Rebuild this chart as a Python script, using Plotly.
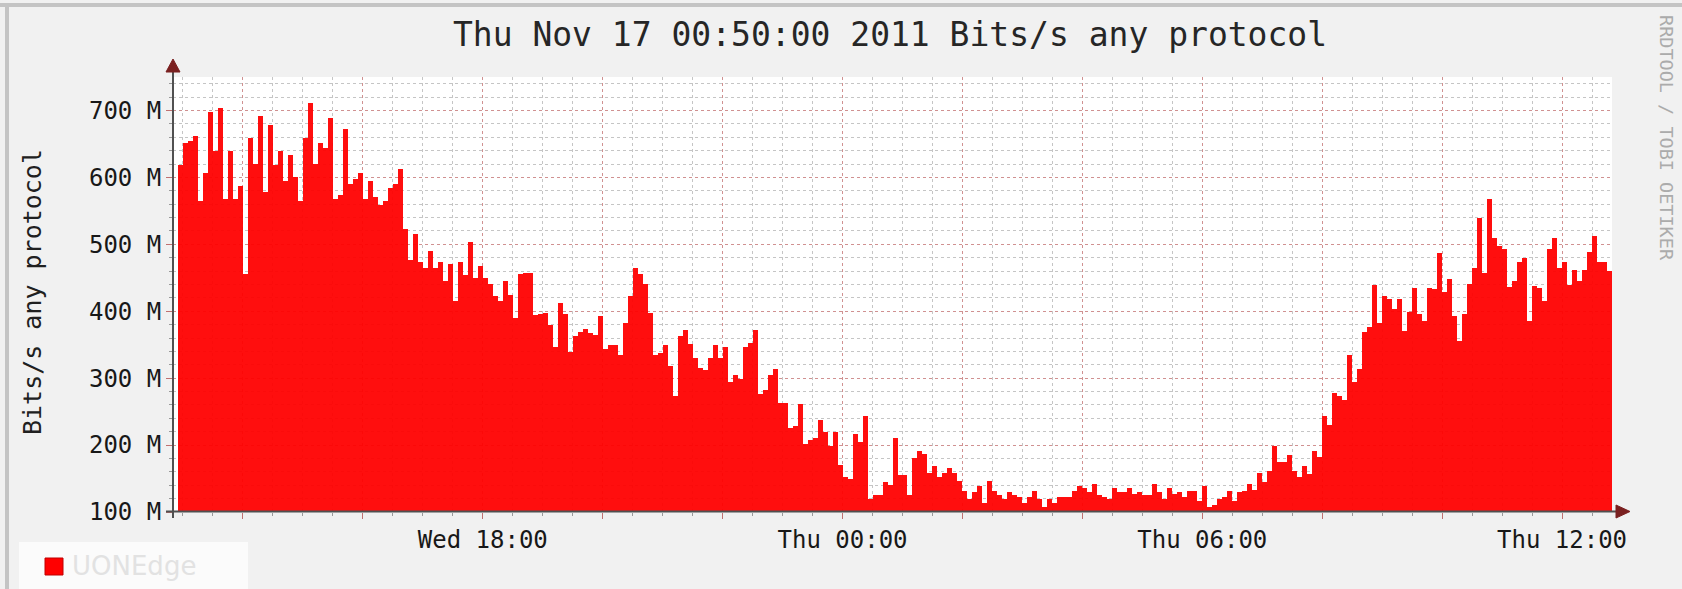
import plotly.graph_objects as go
import pandas as pd

# ---------------- data (Mbit/s, 5-minute samples) ----------------
START = "2011-11-16 12:55:00"      # start of first 5-min bar
STEP_MIN = 5

wed_afternoon = [619, 652, 655, 662, 565, 607, 697, 639, 704, 568,
                 639, 568, 587, 455, 659, 620, 692, 578, 679, 618,
                 639, 594, 633, 600, 565, 659, 711, 620, 652, 644,
                 688, 568, 574, 672, 590, 597, 607, 568, 594, 571,
                 559, 564, 584, 590, 613, 523, 477, 516]
wed_evening = [473, 465, 490, 465, 473, 445, 470, 416, 473, 454,
               503, 449, 467, 449, 441, 423, 416, 445, 425, 390,
               456, 457, 457, 394, 396, 398, 379, 347, 412, 396,
               339, 363, 369, 373, 367, 364, 393, 344, 350, 350,
               335, 383, 423, 464, 455, 441, 398, 335]
wed_night = [338, 350, 318, 273, 363, 372, 351, 330, 315, 312,
             330, 350, 330, 346, 295, 304, 299, 346, 353, 372,
             276, 282, 304, 314, 263, 263, 225, 228, 262, 202,
             207, 210, 237, 220, 199, 219, 170, 152, 150, 217,
             204, 243, 120, 126, 126, 145, 141, 210]
thu_early = [156, 156, 126, 181, 191, 186, 159, 168, 152, 159,
             166, 159, 146, 132, 120, 130, 139, 113, 146, 132,
             126, 120, 130, 126, 123, 113, 123, 132, 120, 107,
             120, 113, 123, 123, 123, 132, 139, 136, 130, 142,
             126, 123, 120, 136, 130, 130, 136, 127]
thu_morning = [130, 125, 125, 142, 130, 120, 136, 127, 130, 123,
               132, 132, 117, 139, 107, 111, 120, 123, 132, 117,
               130, 132, 142, 133, 159, 145, 162, 199, 175, 175,
               185, 162, 152, 168, 157, 191, 182, 243, 230, 278,
               273, 267, 334, 295, 314, 369, 376, 439]
thu_midday = [383, 423, 419, 403, 419, 370, 399, 435, 396, 386,
              435, 433, 487, 429, 448, 393, 355, 396, 441, 465,
              539, 457, 568, 509, 497, 493, 436, 445, 473, 480,
              386, 438, 435, 416, 493, 509, 464, 473, 439, 461,
              445, 461, 489, 512, 473, 473, 460]

values = wed_afternoon + wed_evening + wed_night + thu_early + thu_morning + thu_midday

y_tick_vals = [100, 200, 300, 400, 500, 600, 700]
y_tick_text = ["100 M", "200 M", "300 M", "400 M", "500 M", "600 M", "700 M"]
x_major_ticks = ["2011-11-16 14:00", "2011-11-16 16:00", "2011-11-16 18:00",
                 "2011-11-16 20:00", "2011-11-16 22:00", "2011-11-17 00:00",
                 "2011-11-17 02:00", "2011-11-17 04:00", "2011-11-17 06:00",
                 "2011-11-17 08:00", "2011-11-17 10:00", "2011-11-17 12:00"]
x_major_text = ["", "", "Wed 18:00", "", "", "Thu 00:00",
                "", "", "Thu 06:00", "", "", "Thu 12:00"]
X_RANGE = ["2011-11-16 12:50:00", "2011-11-17 12:50:00"]
Y_RANGE = [100, 750]

TITLE = "Thu Nov 17 00:50:00 2011 Bits/s any protocol"
Y_TITLE = "Bits/s any protocol"
WATERMARK = "RRDTOOL / TOBI OETIKER"
LEGEND_LABEL = "UONEdge"

# ---------------- layout geometry ----------------
W, H = 1682, 589
L, R, T, B = 173, 70, 77, 77
PW = W - L - R
PH = H - T - B


def px(x):
    return (x - L) / PW


def py(y):
    return (H - B - y) / PH


starts = pd.date_range(START, periods=len(values), freq=f"{STEP_MIN}min")
centers = starts + pd.Timedelta(minutes=STEP_MIN / 2)

MONO = "DejaVu Sans Mono"
fig = go.Figure()
fig.add_trace(go.Bar(
    x=centers, y=values, width=STEP_MIN * 60 * 1000,
    marker=dict(color="#ff0000", line=dict(width=0)),
    opacity=0.94, name=LEGEND_LABEL, showlegend=False,
    hovertemplate="%{x}<br>%{y} M<extra></extra>",
))

minor_grid = "rgba(150,150,150,0.55)"
major_grid = "rgba(215,110,110,0.6)"

fig.update_layout(
    width=W, height=H,
    margin=dict(l=L, r=R, t=T, b=B),
    paper_bgcolor="#f1f1f1", plot_bgcolor="#ffffff",
    bargap=0,
    font=dict(family=MONO, color="#202020"),
    title=dict(text=TITLE, x=890 / W, xref="container",
               xanchor="center", y=1 - 34 / H, yanchor="middle",
               font=dict(family=MONO, size=33, color="#262626")),
    xaxis=dict(
        type="date", range=X_RANGE,
        tickmode="array", tickvals=x_major_ticks, ticktext=x_major_text,
        showgrid=True, gridcolor=major_grid, griddash="dot", gridwidth=1,
        ticks="outside", ticklen=6, tickcolor="#c07070",
        tickfont=dict(family=MONO, size=24, color="#181818"),
        minor=dict(tickmode="linear", tick0="2011-11-16 13:00", dtick=30 * 60 * 1000,
                   showgrid=True, gridcolor=minor_grid, griddash="dot", gridwidth=1,
                   ticks="outside", ticklen=3, tickcolor="#999999"),
        zeroline=False, showline=False, fixedrange=True,
    ),
    yaxis=dict(
        range=Y_RANGE,
        tickmode="array", tickvals=y_tick_vals, ticktext=y_tick_text,
        showgrid=True, gridcolor=major_grid, griddash="dot", gridwidth=1,
        ticks="outside", ticklen=6, tickcolor="#c07070",
        tickfont=dict(family=MONO, size=24, color="#181818"),
        minor=dict(tickmode="linear", tick0=100, dtick=20,
                   showgrid=True, gridcolor=minor_grid, griddash="dot", gridwidth=1,
                   ticks="outside", ticklen=3, tickcolor="#999999"),
        zeroline=False, showline=False, fixedrange=True,
    ),
)

shapes = []
# outer frame (top and left bevel)
shapes.append(dict(type="line", xref="paper", yref="paper",
                   x0=px(0), x1=px(W), y0=py(5), y1=py(5),
                   line=dict(color="#c4c4c4", width=4), layer="above"))
shapes.append(dict(type="line", xref="paper", yref="paper",
                   x0=px(7), x1=px(7), y0=py(5), y1=py(H),
                   line=dict(color="#c4c4c4", width=4), layer="above"))
# axis lines
shapes.append(dict(type="line", xref="paper", yref="paper",
                   x0=px(173), x1=px(173), y0=py(66), y1=py(518),
                   line=dict(color="#505050", width=2), layer="above"))
shapes.append(dict(type="line", xref="paper", yref="paper",
                   x0=px(166), x1=px(1618), y0=py(511.5), y1=py(511.5),
                   line=dict(color="#505050", width=2), layer="above"))
# arrows
shapes.append(dict(type="path", xref="paper", yref="paper",
                   path=f"M {px(166)},{py(72)} L {px(180)},{py(72)} L {px(173)},{py(59)} Z",
                   fillcolor="#7a2020", line=dict(color="#7a2020", width=1), layer="above"))
shapes.append(dict(type="path", xref="paper", yref="paper",
                   path=f"M {px(1616)},{py(505)} L {px(1616)},{py(518)} L {px(1630)},{py(511.5)} Z",
                   fillcolor="#7a2020", line=dict(color="#7a2020", width=1), layer="above"))
# legend box and swatch
shapes.append(dict(type="rect", xref="paper", yref="paper",
                   x0=px(19), x1=px(248), y0=py(542), y1=py(592),
                   fillcolor="#fbfbfb", line=dict(width=0), layer="above"))
shapes.append(dict(type="rect", xref="paper", yref="paper",
                   x0=px(45), x1=px(63), y0=py(558), y1=py(575),
                   fillcolor="#ff0000", line=dict(color="#c00000", width=1), layer="above"))
fig.update_layout(shapes=shapes)

annotations = [
    dict(text=Y_TITLE, xref="paper", yref="paper", x=px(32), y=py(292),
         xanchor="center", yanchor="middle", textangle=-90, showarrow=False,
         font=dict(family=MONO, size=25, color="#202020")),
    dict(text=WATERMARK, xref="paper", yref="paper", x=px(1667), y=py(138),
         xanchor="center", yanchor="middle", textangle=90, showarrow=False,
         font=dict(family=MONO, size=18.5, color="#ababab")),
    dict(text=LEGEND_LABEL, xref="paper", yref="paper", x=px(70), y=py(566),
         xanchor="left", yanchor="middle", showarrow=False,
         font=dict(family="DejaVu Sans", size=26, color="#e2e2e2")),
]
fig.update_layout(annotations=annotations)

fig.write_html("out.html", config={"displayModeBar": False},
               post_script="document.body.style.margin='0';document.body.style.overflow='hidden';")
